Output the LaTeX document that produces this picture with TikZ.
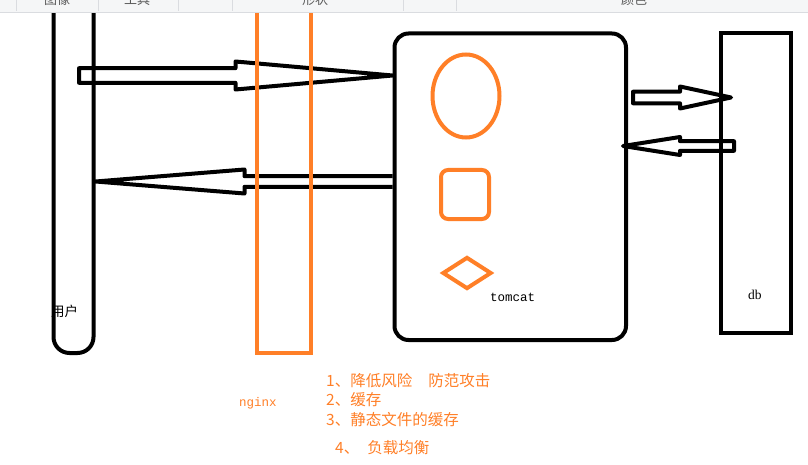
\documentclass[tikz,border=0pt]{standalone}
\usepackage{fontspec}
\usepackage{tikz}
\usetikzlibrary{shapes.geometric,calc}
\newfontfamily\cjk{Noto Sans CJK SC}
\newfontfamily\monofnt{Liberation Mono}
\newfontfamily\seriffnt{Liberation Serif}
\definecolor{paintorange}{RGB}{255,127,39}
\definecolor{bandgray}{RGB}{245,246,247}
\definecolor{bandline}{RGB}{218,220,224}
\definecolor{bandtext}{RGB}{90,90,90}

% block arrow: start, tip, head back offset, shaft half, head half, end
\newcommand{\blockarrow}[6]{%
  \draw[blockline] ($(#1)+(0,-#4)$) -- ($(#2)+(#3,-#4)$) -- ($(#2)+(#3,-#5)$) -- (#2)
    -- ($(#2)+(#3,#5)$) -- ($(#2)+(#3,#4)$) -- ($(#1)+(0,#4)$) #6;}

\begin{document}
\begin{tikzpicture}[x=1pt, y=-1pt,
    frame/.style={draw=black, line width=4pt, inner sep=0pt, fill=none},
    part/.style={draw=paintorange, line width=4pt, inner sep=0pt},
    blockline/.style={draw=black, line width=4pt, line join=round},
    label/.style={inner sep=0pt, anchor=west},
    note/.style={inner sep=0pt, anchor=west, text=paintorange, font=\cjk\fontsize{15.5}{18}\selectfont},
    tab/.style={inner sep=0pt, text=bandtext, font=\cjk\fontsize{13}{15}\selectfont}
]
    \useasboundingbox (0,0) rectangle (808,465);
    \fill[white] (0,0) rectangle (808,465);

    % Boxes
    \node[frame, rounded corners=16pt, minimum width=40pt, minimum height=393pt] (user) at (73.5,156.5) {};
    \node[frame, rounded corners=14pt, minimum width=231.5pt, minimum height=306.5pt] (tomcat) at (510.25,186.75) {};
    \node[frame, minimum width=70pt, minimum height=299.5pt] (db) at (756,183.25) {};

    % Inside tomcat
    \node[part, ellipse, minimum width=67pt, minimum height=83pt] (cache) at (466,96) {};
    \node[part, rounded corners=7pt, minimum width=48pt, minimum height=49pt] (static) at (465,194.5) {};
    \node[part, diamond, minimum width=49pt, minimum height=32pt] (balance) at (467,273) {};

    % Arrow ends
    \coordinate (a1s) at (79,75.5);
    \coordinate (a1t) at (tomcat.west |- a1s);
    \coordinate (a2s) at (tomcat.west |- 0,181.5);
    \coordinate (a2t) at (user.east |- a2s);
    \coordinate (a3s) at ($(tomcat.east |- 0,97.5)+(5,0)$);
    \coordinate (a3t) at ($(db.west |- a3s)+(12,0)$);
    \coordinate (a4s) at ($(db.west |- 0,146)+(15,0)$);
    \coordinate (a4t) at ($(tomcat.east |- a4s)+(-5,0)$);

    % Arrows
    \blockarrow{a1s}{a1t}{-157}{7.3}{14}{-- cycle}
    \blockarrow{a2s}{a2t}{149}{5.3}{12}{}
    \blockarrow{a3s}{a3t}{-51}{5.8}{11}{-- cycle}
    \blockarrow{a4s}{a4t}{57}{4.8}{9}{-- cycle}

    % nginx in front of the arrows
    \node[part, minimum width=54pt, minimum height=373pt] (nginx) at (284,166.5) {};

    % Labels
    \node[label, font=\cjk\fontsize{13.5}{15}\selectfont] (userlbl) at (51,311) {用户};
    \node[label, font=\monofnt\fontsize{12.5}{14}\selectfont] (tomcatlbl) at (490,297) {tomcat};
    \node[label, font=\seriffnt\fontsize{13.5}{15}\selectfont] (dblbl) at (748,295) {db};
    \node[label, text=paintorange, font=\monofnt\fontsize{12.5}{14}\selectfont] (nginxlbl) at (239,403) {nginx};

    % Notes
    \node[note] (note1) at (326,381) {1、降低风险\hspace{16pt}防范攻击};
    \node[note] (note2) at (326,400) {2、缓存};
    \node[note] (note3) at (326,419.5) {3、静态文件的缓存};
    \node[note] (note4) at (335,447.5) {4、\hspace{8pt}负载均衡};

    % Toolbar strip
    \fill[bandgray] (0,0) rectangle (808,12);
    \draw[bandline, line width=1pt] (0,12.5) -- (808,12.5);
    \foreach \sx in {16,98,178,232,403,456}
        \draw[bandline, line width=0.8pt] (\sx,0) -- (\sx,11);
    \begin{scope}
        \clip (0,0) rectangle (808,12);
        \node[tab] (tab1) at (57,0) {图像};
        \node[tab] (tab2) at (137,0) {工具};
        \node[tab] (tab3) at (315,0) {形状};
        \node[tab] (tab4) at (634,0) {颜色};
    \end{scope}
\end{tikzpicture}
\end{document}
